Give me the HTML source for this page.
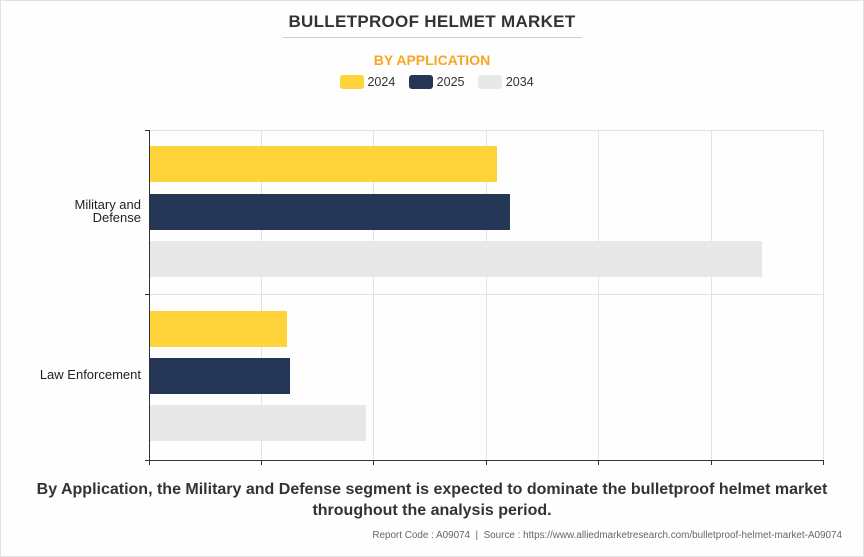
<!DOCTYPE html><html><head><style>
body{margin:0;background:#fff;}
#w{position:relative;width:862px;height:555px;border:1px solid #e2e2e2;background:#fffefe;font-family:"Liberation Sans",sans-serif;overflow:hidden}
.t{position:absolute;left:0;width:862px;text-align:center}
</style></head><body><div id="w">
<div class="t" style="top:11px;font-size:17px;font-weight:bold;color:#333;letter-spacing:0.3px">BULLETPROOF HELMET MARKET</div>
<div style="position:absolute;left:282px;top:36px;width:299px;height:1px;background:#ccc"></div>
<div class="t" style="top:51px;font-size:14px;font-weight:bold;color:#f5a623">BY APPLICATION</div>
<div style="position:absolute;top:74px;left:339px;font-size:12.5px;color:#333;line-height:14px">
<span style="display:inline-block;width:24px;height:14px;background:#ffd43b;border-radius:3px;vertical-align:top"></span>&nbsp;2024&nbsp;&nbsp;&nbsp;
<span style="display:inline-block;width:24px;height:14px;background:#253757;border-radius:3px;vertical-align:top"></span>&nbsp;2025&nbsp;&nbsp;&nbsp;
<span style="display:inline-block;width:24px;height:14px;background:#e8e8e8;border-radius:3px;vertical-align:top"></span>&nbsp;2034</div>
<svg style="position:absolute;left:-1px;top:-1px" width="864" height="557">
<g stroke="#e2e2e2" stroke-width="1">
<line x1="261.5" y1="130" x2="261.5" y2="460"/><line x1="373.5" y1="130" x2="373.5" y2="460"/><line x1="486.5" y1="130" x2="486.5" y2="460"/><line x1="598.5" y1="130" x2="598.5" y2="460"/><line x1="711.5" y1="130" x2="711.5" y2="460"/><line x1="823.5" y1="130" x2="823.5" y2="460"/>
<line x1="149" y1="130.5" x2="823" y2="130.5"/><line x1="149" y1="294.5" x2="823" y2="294.5"/>
</g>
<rect x="149" y="146" width="348" height="36" fill="#ffd43b"/>
<rect x="149" y="194" width="361" height="36" fill="#253757"/>
<rect x="149" y="241" width="613" height="36" fill="#e8e8e8"/>
<rect x="149" y="311" width="138" height="36" fill="#ffd43b"/>
<rect x="149" y="358" width="141" height="36" fill="#253757"/>
<rect x="149" y="405" width="217" height="36" fill="#e8e8e8"/>
<g stroke="#333" stroke-width="1">
<line x1="149.5" y1="130" x2="149.5" y2="460"/><line x1="149" y1="460.5" x2="823" y2="460.5"/>
<line x1="145" y1="130.5" x2="149" y2="130.5"/><line x1="145" y1="294.5" x2="149" y2="294.5"/><line x1="145" y1="460.5" x2="149" y2="460.5"/>
<line x1="149.5" y1="460" x2="149.5" y2="465"/><line x1="261.5" y1="460" x2="261.5" y2="465"/><line x1="373.5" y1="460" x2="373.5" y2="465"/><line x1="486.5" y1="460" x2="486.5" y2="465"/><line x1="598.5" y1="460" x2="598.5" y2="465"/><line x1="711.5" y1="460" x2="711.5" y2="465"/><line x1="823.5" y1="460" x2="823.5" y2="465"/>
</g>
<g font-family="Liberation Sans,sans-serif" font-size="13" fill="#222" text-anchor="end">
<text x="141" y="209">Military and</text><text x="141" y="222">Defense</text>
<text x="141" y="379">Law Enforcement</text></g>
</svg>
<div class="t" style="top:478px;font-size:16px;font-weight:bold;color:#333;line-height:21px">By Application, the Military and Defense segment is expected to dominate the bulletproof helmet market<br>throughout the analysis period.</div>
<div style="position:absolute;right:21px;top:529px;font-size:9.9px;color:#666">Report Code : A09074 &nbsp;|&nbsp; Source : https://www.alliedmarketresearch.com/bulletproof-helmet-market-A09074</div>
</div></body></html>
